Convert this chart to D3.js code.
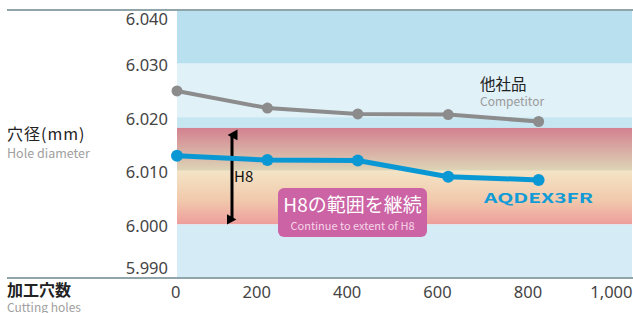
<!DOCTYPE html>
<html>
<head>
<meta charset="utf-8">
<script src="https://cdn.jsdelivr.net/npm/d3@7"></script>
<style>
  html, body { margin: 0; padding: 0; background: #fff; }
  svg { display: block; }
  text { font-family: "Noto Sans CJK JP", "Noto Sans", sans-serif; }
  .num { font-family: "Noto Sans", sans-serif; font-size: 16.5px; fill: #444; }
</style>
</head>
<body>
<svg id="chart" width="633" height="313"></svg>
<script>
// 加工穴数 (x) と 穴径 (y)
const holes = [0, 200, 400, 600, 800];
const competitor = [6.0249, 6.0217, 6.0206, 6.0205, 6.0192];
const aqdex = [6.0128, 6.0120, 6.0119, 6.0089, 6.0083];
const xTicks = [0, 200, 400, 600, 800, 1000];
const yTicks = [5.990, 6.000, 6.010, 6.020, 6.030, 6.040];
const h8 = [6.000, 6.018];

const W = 633, H = 313;
const L = 177, R = 632, T = 10, B = 278;

const svg = d3.select("#chart");

const x = d3.scaleLinear().domain([0, 1000]).range([L, 629]);
const y = d3.scaleLinear().domain([5.990, 6.040]).range([B, T]);

// 背景の帯
const defs = svg.append("defs");
const gTop = defs.append("linearGradient").attr("id", "h8top").attr("x1", 0).attr("x2", 0).attr("y1", 0).attr("y2", 1);
gTop.append("stop").attr("offset", "0%").attr("stop-color", "#d3818f");
gTop.append("stop").attr("offset", "100%").attr("stop-color", "#ddd5b6");
const gBot = defs.append("linearGradient").attr("id", "h8bot").attr("x1", 0).attr("x2", 0).attr("y1", 0).attr("y2", 1);
gBot.append("stop").attr("offset", "0%").attr("stop-color", "#f4e4c6");
gBot.append("stop").attr("offset", "55%").attr("stop-color", "#f1c9ac");
gBot.append("stop").attr("offset", "100%").attr("stop-color", "#ee9d9c");

const bands = [
  { lo: 6.030, hi: 6.040, fill: "#b8e0ee" },
  { lo: 6.020, hi: 6.030, fill: "#e0f1f8" },
  { lo: h8[1], hi: 6.020, fill: "#c6e6f1" },
  { lo: 6.010, hi: h8[1], fill: "url(#h8top)" },
  { lo: h8[0], hi: 6.010, fill: "url(#h8bot)" },
  { lo: 5.990, hi: h8[0], fill: "#d5ecf6" }
];

svg.append("g").selectAll("rect")
  .data(bands)
  .enter()
  .append("rect")
  .attr("x", L)
  .attr("width", R - L)
  .attr("y", d => y(d.hi))
  .attr("height", d => y(d.lo) - y(d.hi))
  .attr("fill", d => d.fill);

// 上下の罫線
svg.append("line").attr("x1", 7).attr("x2", W).attr("y1", T).attr("y2", T)
  .attr("stroke", "#90a4ac").attr("stroke-width", 2);
svg.append("line").attr("x1", 7).attr("x2", W).attr("y1", B).attr("y2", B)
  .attr("stroke", "#90a4ac").attr("stroke-width", 2);

// y軸 (端のラベルは内側に寄せる)
const yAxis = svg.append("g")
  .attr("transform", `translate(168,0)`)
  .call(d3.axisLeft(y).tickValues(yTicks).tickSize(0).tickPadding(0).tickFormat(d3.format(".3f")));
yAxis.select(".domain").remove();
yAxis.selectAll(".tick")
  .attr("transform", d => `translate(0,${Math.min(Math.max(y(d) + 1.5, T + 9), B - 10)})`);
yAxis.selectAll("text").attr("class", "num").attr("dy", "0.36em").attr("x", 0);

// x軸
const xAxis = svg.append("g")
  .attr("transform", `translate(0,${B})`)
  .call(d3.axisBottom(x).tickValues(xTicks).tickSize(0).tickFormat(d3.format(",")));
xAxis.select(".domain").remove();
xAxis.selectAll("text").attr("class", "num")
  .attr("text-anchor", "end").attr("x", 3).attr("y", 14.5).attr("dy", "0.36em");

// H8 矢印
defs.append("marker").attr("id", "ah").attr("viewBox", "0 0 10 10")
  .attr("refX", 5).attr("refY", 5).attr("markerWidth", 11).attr("markerHeight", 11)
  .attr("markerUnits", "userSpaceOnUse").attr("orient", "auto-start-reverse")
  .append("path").attr("d", "M0,10 L5,1 L10,10 Z").attr("fill", "#000");
svg.append("line")
  .attr("x1", 232).attr("x2", 232)
  .attr("y1", y(h8[1]) + 7).attr("y2", y(h8[0]) - 5)
  .attr("stroke", "#000").attr("stroke-width", 3)
  .attr("marker-start", "url(#ah)").attr("marker-end", "url(#ah)");
svg.append("text").attr("x", 234).attr("y", 182)
  .attr("font-family", "Noto Sans").attr("font-size", 15).attr("fill", "#111").text("H8");

// 線
const line = d3.line().x((d, i) => x(holes[i])).y(d => y(d));

svg.append("path").datum(competitor)
  .attr("d", line).attr("fill", "none")
  .attr("stroke", "#8c8c8c").attr("stroke-width", 4);
svg.append("g").selectAll("circle")
  .data(competitor).enter().append("circle")
  .attr("cx", (d, i) => x(holes[i])).attr("cy", d => y(d))
  .attr("r", 5.5).attr("fill", "#8c8c8c");

svg.append("path").datum(aqdex)
  .attr("d", line).attr("fill", "none")
  .attr("stroke", "#0a98d5").attr("stroke-width", 5);
svg.append("g").selectAll("circle")
  .data(aqdex).enter().append("circle")
  .attr("cx", (d, i) => x(holes[i])).attr("cy", d => y(d))
  .attr("r", 6).attr("fill", "#0a98d5");

// 凡例ラベル
svg.append("text").attr("x", 480).attr("y", 90).attr("font-size", 15.5).attr("fill", "#222").text("他社品");
svg.append("text").attr("x", 480).attr("y", 106).attr("font-family", "Noto Sans").attr("font-size", 12).attr("fill", "#9a9a9a").text("Competitor");
svg.append("text").attr("x", 484).attr("y", 203)
  .attr("font-family", "DejaVu Sans").attr("font-weight", "bold").attr("font-size", 13.5)
  .attr("textLength", 109).attr("lengthAdjust", "spacingAndGlyphs")
  .attr("fill", "#129bd6").text("AQDEX3FR");

// H8 継続ボックス
svg.append("rect").attr("x", 278).attr("y", 188).attr("width", 149).attr("height", 49)
  .attr("rx", 6).attr("fill", "#cc63a5");
svg.append("text").attr("x", 352.5).attr("y", 212).attr("text-anchor", "middle")
  .attr("font-size", 19).attr("fill", "#fff").text("H8の範囲を継続");
svg.append("text").attr("x", 352.5).attr("y", 230).attr("text-anchor", "middle")
  .attr("font-family", "Noto Sans").attr("font-size", 11).attr("fill", "#f6d6e8").text("Continue to extent of H8");

// 軸タイトル
svg.append("text").attr("x", 7).attr("y", 140).attr("font-size", 16).attr("letter-spacing", 1).attr("fill", "#222").text("穴径(mm)");
svg.append("text").attr("x", 7).attr("y", 158).attr("font-family", "Noto Sans").attr("font-size", 12.5).attr("fill", "#a0a0a0").text("Hole diameter");
svg.append("text").attr("x", 7).attr("y", 296).attr("font-size", 16).attr("font-weight", "bold").attr("fill", "#222").text("加工穴数");
svg.append("text").attr("x", 7).attr("y", 312).attr("font-family", "Noto Sans").attr("font-size", 12).attr("fill", "#a0a0a0").text("Cutting holes");
</script>
</body>
</html>
